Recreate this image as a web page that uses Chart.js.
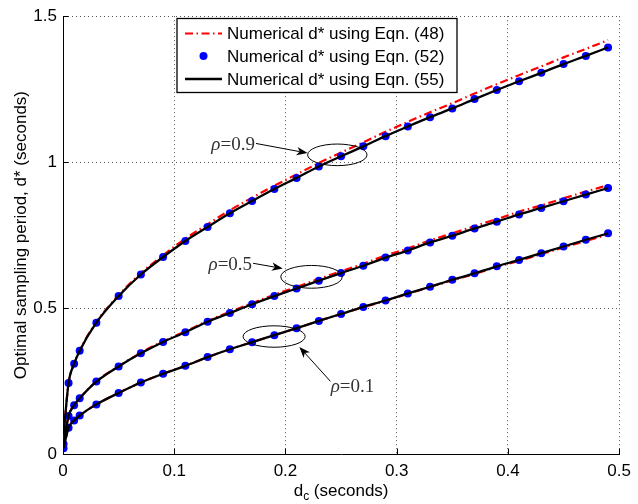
<!DOCTYPE html>
<html>
<head>
<meta charset="utf-8">
<script src="https://cdn.jsdelivr.net/npm/chart.js@4.4.0/dist/chart.umd.min.js"></script>
<style>
  html, body { margin: 0; padding: 0; background: #fff; }
  #wrap { width: 638px; height: 504px; }
</style>
</head>
<body>
<div id="wrap"><canvas id="c" width="638" height="504"></canvas></div>
<script>
// Constraint delay d_c (seconds) at which the optimum was evaluated
const dc = [0.0005, 0.005, 0.01, 0.015, 0.03, 0.05, 0.07, 0.09, 0.11, 0.13, 0.15, 0.17, 0.19, 0.21,
            0.23, 0.25, 0.27, 0.29, 0.31, 0.33, 0.35, 0.37, 0.39, 0.41, 0.43, 0.45, 0.47, 0.49];

// Optimal sampling period d* (seconds), Eqn. (48)
const eq48_rho09 = [0.066, 0.243, 0.309, 0.355, 0.452, 0.544, 0.619, 0.681, 0.738, 0.787, 0.835, 0.878, 0.919, 0.958,
                    0.997, 1.033, 1.068, 1.104, 1.138, 1.171, 1.202, 1.235, 1.267, 1.298, 1.328, 1.359, 1.388, 1.418];
const eq48_rho05 = [0.034, 0.130, 0.167, 0.191, 0.249, 0.301, 0.347, 0.386, 0.420, 0.456, 0.487, 0.517, 0.546, 0.572,
                    0.600, 0.626, 0.652, 0.680, 0.704, 0.732, 0.756, 0.781, 0.805, 0.830, 0.852, 0.876, 0.899, 0.921];
const eq48_rho01 = [0.020, 0.090, 0.115, 0.132, 0.170, 0.209, 0.245, 0.275, 0.302, 0.332, 0.359, 0.383, 0.407, 0.431,
                    0.456, 0.480, 0.503, 0.525, 0.549, 0.572, 0.595, 0.617, 0.641, 0.662, 0.685, 0.708, 0.730, 0.752];

// Eqn. (52)
const eq52_rho09 = [0.066, 0.243, 0.309, 0.354, 0.450, 0.541, 0.615, 0.675, 0.730, 0.778, 0.825, 0.867, 0.908, 0.946,
                    0.985, 1.020, 1.054, 1.089, 1.122, 1.154, 1.184, 1.216, 1.247, 1.277, 1.306, 1.336, 1.364, 1.393];
const eq52_rho05 = [0.034, 0.130, 0.167, 0.191, 0.248, 0.300, 0.345, 0.384, 0.417, 0.453, 0.483, 0.513, 0.541, 0.567,
                    0.594, 0.620, 0.645, 0.673, 0.697, 0.725, 0.748, 0.773, 0.796, 0.821, 0.843, 0.866, 0.889, 0.911];
const eq52_rho01 = [0.020, 0.090, 0.115, 0.132, 0.170, 0.209, 0.245, 0.275, 0.302, 0.332, 0.359, 0.383, 0.407, 0.431,
                    0.456, 0.480, 0.504, 0.526, 0.550, 0.573, 0.597, 0.619, 0.643, 0.665, 0.688, 0.711, 0.734, 0.756];

// Eqn. (55)
const eq55_rho09 = [0.066, 0.243, 0.309, 0.354, 0.450, 0.541, 0.615, 0.675, 0.730, 0.778, 0.825, 0.867, 0.908, 0.946,
                    0.985, 1.020, 1.054, 1.089, 1.122, 1.154, 1.184, 1.216, 1.247, 1.277, 1.306, 1.336, 1.364, 1.393];
const eq55_rho05 = [0.034, 0.130, 0.167, 0.191, 0.248, 0.300, 0.345, 0.384, 0.417, 0.453, 0.483, 0.513, 0.541, 0.567,
                    0.594, 0.620, 0.645, 0.673, 0.697, 0.725, 0.748, 0.773, 0.796, 0.821, 0.843, 0.866, 0.889, 0.911];
const eq55_rho01 = [0.020, 0.090, 0.115, 0.132, 0.170, 0.209, 0.245, 0.275, 0.302, 0.332, 0.359, 0.383, 0.407, 0.431,
                    0.456, 0.480, 0.504, 0.526, 0.550, 0.573, 0.597, 0.619, 0.643, 0.665, 0.688, 0.711, 0.734, 0.756];

// Axis tick values and their labels
const xTickValues = [0, 0.1, 0.2, 0.3, 0.4, 0.5];
const xTickLabels = ['0', '0.1', '0.2', '0.3', '0.4', '0.5'];
const yTickValues = [0, 0.5, 1, 1.5];
const yTickLabels = ['0', '0.5', '1', '1.5'];

const legendLabels = ['Numerical d* using Eqn. (48)', 'Numerical d* using Eqn. (52)', 'Numerical d* using Eqn. (55)'];
const xTitle = ['d', 'c', ' (seconds)'];
const yTitle = 'Optimal sampling period, d* (seconds)';

// Callouts for each correlation value, in axis units
const callouts = [
  { rho: '0.9', ellipse: { x: 0.2466, y: 1.025, rx: 0.0267, ry: 0.037 },
    arrowFrom: { x: 0.1735, y: 1.064 }, arrowTo: { x: 0.2199, y: 1.031 },
    label: { x: 0.1725, y: 1.058, align: 'right' } },
  { rho: '0.5', ellipse: { x: 0.2234, y: 0.607, rx: 0.0276, ry: 0.039 },
    arrowFrom: { x: 0.1709, y: 0.6534 }, arrowTo: { x: 0.1976, y: 0.6354 },
    label: { x: 0.1700, y: 0.6487, align: 'right' } },
  { rho: '0.1', ellipse: { x: 0.1898, y: 0.4025, rx: 0.0279, ry: 0.0367 },
    arrowFrom: { x: 0.2404, y: 0.2490 }, arrowTo: { x: 0.2125, y: 0.3668 },
    label: { x: 0.2406, y: 0.2296, align: 'left' } }
];

const SANS = "'Liberation Sans', Arial, Helvetica, sans-serif";
const SERIF = "'Liberation Serif', 'Times New Roman', serif";

const pts = ys => dc.map((x, i) => ({ x, y: ys[i] }));

const styleEq48 = { borderColor: '#ff0000', borderWidth: 2.2, borderDash: [8, 3.5, 1.5, 3.5] };
const styleEq52 = { backgroundColor: '#0000ff', radius: 4 };
const styleEq55 = { borderColor: '#000000', borderWidth: 2.3 };

function eq48Set(ys) {
  return { data: pts(ys), showLine: true, borderColor: styleEq48.borderColor, borderWidth: styleEq48.borderWidth,
           borderDash: styleEq48.borderDash, pointRadius: 0, cubicInterpolationMode: 'monotone', order: 3 };
}
function eq52Set(ys) {
  return { data: pts(ys), showLine: false, pointRadius: styleEq52.radius, pointBackgroundColor: styleEq52.backgroundColor,
           pointBorderWidth: 0, order: 2 };
}
function eq55Set(ys) {
  return { data: pts(ys), showLine: true, borderColor: styleEq55.borderColor, borderWidth: styleEq55.borderWidth,
           pointRadius: 0, cubicInterpolationMode: 'monotone', order: 1 };
}

const labelFor = (values, labels) => (v) => {
  const i = values.findIndex(t => Math.abs(t - v) < 1e-9);
  return i >= 0 ? labels[i] : '';
};

const overlay = {
  id: 'overlay',
  afterDraw(chart) {
    const { ctx, chartArea: a } = chart;
    const sx = chart.scales.x, sy = chart.scales.y;
    const P = (p) => [sx.getPixelForValue(p.x), sy.getPixelForValue(p.y)];
    ctx.save();

    // inward tick marks
    ctx.strokeStyle = '#000';
    ctx.lineWidth = 1;
    ctx.setLineDash([]);
    ctx.beginPath();
    sx.ticks.forEach(t => {
      const p = Math.round(sx.getPixelForValue(t.value)) + 0.5;
      ctx.moveTo(p, a.bottom); ctx.lineTo(p, a.bottom - 5.5);
    });
    sy.ticks.forEach(t => {
      const p = Math.round(sy.getPixelForValue(t.value)) + 0.5;
      ctx.moveTo(a.left, p); ctx.lineTo(a.left + 5.5, p);
    });
    ctx.stroke();

    // callouts: ellipse, arrow and label
    callouts.forEach(c => {
      const [cx, cy] = P(c.ellipse);
      const rx = Math.abs(sx.getPixelForValue(c.ellipse.x + c.ellipse.rx) - cx);
      const ry = Math.abs(sy.getPixelForValue(c.ellipse.y + c.ellipse.ry) - cy);
      ctx.strokeStyle = '#000';
      ctx.lineWidth = 1;
      ctx.beginPath();
      ctx.ellipse(cx, cy, rx, ry, 0, 0, Math.PI * 2);
      ctx.stroke();

      const [x0, y0] = P(c.arrowFrom);
      const [x1, y1] = P(c.arrowTo);
      const ang = Math.atan2(y1 - y0, x1 - x0);
      const L = 11, W = 4.2;
      const bx = x1 - L * Math.cos(ang), by = y1 - L * Math.sin(ang);
      ctx.beginPath();
      ctx.moveTo(x0, y0); ctx.lineTo(bx + 3 * Math.cos(ang), by + 3 * Math.sin(ang));
      ctx.stroke();
      ctx.fillStyle = '#000';
      ctx.beginPath();
      ctx.moveTo(x1, y1);
      ctx.lineTo(bx + W * Math.sin(ang), by - W * Math.cos(ang));
      ctx.lineTo(bx + 3 * Math.cos(ang), by + 3 * Math.sin(ang));
      ctx.lineTo(bx - W * Math.sin(ang), by + W * Math.cos(ang));
      ctx.closePath();
      ctx.fill();

      const [lx, ly] = P(c.label);
      ctx.fillStyle = '#333';
      ctx.textBaseline = 'middle';
      ctx.textAlign = 'left';
      ctx.font = 'italic 19px ' + SERIF;
      const w1 = ctx.measureText('\u03C1').width;
      ctx.font = '19px ' + SERIF;
      const rest = '=' + c.rho;
      const w2 = ctx.measureText(rest).width;
      const start = c.label.align === 'right' ? lx - (w1 + w2) : lx;
      ctx.font = 'italic 19px ' + SERIF;
      ctx.fillText('\u03C1', start, ly);
      ctx.font = '19px ' + SERIF;
      ctx.fillText(rest, start + w1, ly);
    });

    // legend box
    const lg = { x: 177, y: 18.5, w: 280, h: 74, rows: [33.5, 56, 79] };
    ctx.fillStyle = '#fff';
    ctx.fillRect(lg.x, lg.y, lg.w, lg.h);
    ctx.strokeStyle = '#000';
    ctx.lineWidth = 1.3;
    ctx.strokeRect(lg.x, lg.y, lg.w, lg.h);
    const sampleX0 = lg.x + 8, sampleX1 = lg.x + 45;
    // Eqn. (48)
    ctx.strokeStyle = styleEq48.borderColor;
    ctx.lineWidth = styleEq48.borderWidth;
    ctx.setLineDash(styleEq48.borderDash);
    ctx.beginPath(); ctx.moveTo(sampleX0, lg.rows[0]); ctx.lineTo(sampleX1, lg.rows[0]); ctx.stroke();
    ctx.setLineDash([]);
    // Eqn. (52)
    ctx.fillStyle = styleEq52.backgroundColor;
    ctx.beginPath(); ctx.arc((sampleX0 + sampleX1) / 2, lg.rows[1], styleEq52.radius, 0, Math.PI * 2); ctx.fill();
    // Eqn. (55)
    ctx.strokeStyle = styleEq55.borderColor;
    ctx.lineWidth = styleEq55.borderWidth;
    ctx.beginPath(); ctx.moveTo(sampleX0, lg.rows[2]); ctx.lineTo(sampleX1, lg.rows[2]); ctx.stroke();
    ctx.fillStyle = '#000';
    ctx.font = '17px ' + SANS;
    ctx.textAlign = 'left';
    ctx.textBaseline = 'middle';
    legendLabels.forEach((t, i) => ctx.fillText(t, lg.x + 50, lg.rows[i] + 1));

    // axis titles
    const midX = (a.left + a.right) / 2;
    ctx.font = '17px ' + SANS;
    const wd = ctx.measureText(xTitle[0]).width;
    const wr = ctx.measureText(xTitle[2]).width;
    ctx.font = '12px ' + SANS;
    const ws = ctx.measureText(xTitle[1]).width;
    let tx = midX - (wd + ws + wr) / 2;
    const base = 495.5;
    ctx.textBaseline = 'alphabetic';
    ctx.font = '17px ' + SANS;
    ctx.fillText(xTitle[0], tx, base);
    ctx.font = '12px ' + SANS;
    ctx.fillText(xTitle[1], tx + wd, base + 4);
    ctx.font = '17px ' + SANS;
    ctx.fillText(xTitle[2], tx + wd + ws, base);

    ctx.translate(21, (a.top + a.bottom) / 2);
    ctx.rotate(-Math.PI / 2);
    ctx.textAlign = 'center';
    ctx.textBaseline = 'middle';
    ctx.fillText(yTitle, 0, 0);
    ctx.restore();
  }
};

new Chart(document.getElementById('c'), {
  type: 'scatter',
  data: {
    datasets: [
      eq48Set(eq48_rho09), eq48Set(eq48_rho05), eq48Set(eq48_rho01),
      eq52Set(eq52_rho09), eq52Set(eq52_rho05), eq52Set(eq52_rho01),
      eq55Set(eq55_rho09), eq55Set(eq55_rho05), eq55Set(eq55_rho01)
    ]
  },
  options: {
    responsive: false,
    devicePixelRatio: 1,
    animation: false,
    layout: { padding: { top: 13, right: 14, left: 0, bottom: 0 } },
    plugins: { legend: { display: false }, tooltip: { enabled: false } },
    scales: {
      x: {
        type: 'linear', min: 0, max: 0.5,
        afterFit: s => { s.height = 50; },
        afterBuildTicks: s => { s.ticks = xTickValues.map(v => ({ value: v })); },
        ticks: { color: '#000', font: { family: SANS, size: 17 }, padding: 7, maxRotation: 0,
                 callback: labelFor(xTickValues, xTickLabels) },
        grid: { color: '#555', lineWidth: 1, drawTicks: false },
        border: { display: true, color: '#000', width: 1, dash: [1, 3] }
      },
      y: {
        type: 'linear', min: 0, max: 1.5,
        afterFit: s => { s.width = 63; },
        afterBuildTicks: s => { s.ticks = yTickValues.map(v => ({ value: v })); },
        ticks: { color: '#000', font: { family: SANS, size: 17 }, padding: 6,
                 callback: labelFor(yTickValues, yTickLabels) },
        grid: { color: '#555', lineWidth: 1, drawTicks: false },
        border: { display: true, color: '#000', width: 1, dash: [1, 3] }
      }
    }
  },
  plugins: [overlay]
});
</script>
</body>
</html>
